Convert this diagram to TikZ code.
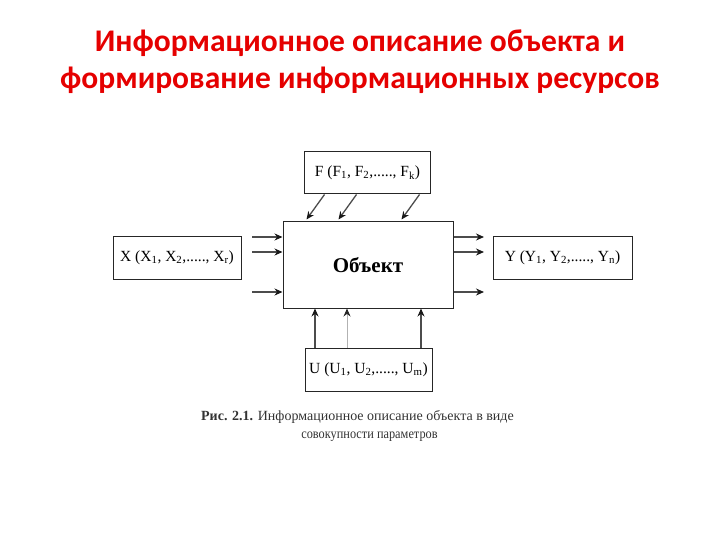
\documentclass[tikz,border=0pt]{standalone}
\usepackage{fontspec}
\setmainfont{Liberation Serif}
\newfontfamily\titlefont{Carlito}
\newfontfamily\capfont[FakeStretch=0.88]{Liberation Serif}
\usetikzlibrary{arrows.meta}
\begin{document}
\begin{tikzpicture}[x=1pt,y=-1pt,
  box/.style={draw=black!85,line width=1pt,inner sep=0pt,font=\fontsize{15.5}{17}\selectfont},
  arr/.style={draw=black!70,line width=1.3pt,-{Stealth[length=8pt,width=7pt,color=black!90]}},
  larr/.style={draw=black!30,line width=1pt,-{Stealth[length=8pt,width=7pt,color=black!85]}},
  captext/.style={font=\fontsize{14}{18}\selectfont,text=black!80,inner sep=0pt}]
\useasboundingbox (0,0) rectangle (720,540);
\node[font=\titlefont\bfseries\fontsize{31.5}{37}\selectfont,text=red!90!black,align=center] (title) at (360,62)
  {Информационное описание объекта и\\формирование информационных ресурсов};
% boxes
\node[box,minimum width=126pt,minimum height=42pt] (F) at (367.5,173) {F (F\textsubscript{1}, F\textsubscript{2},....., F\textsubscript{k})};
\node[box,minimum width=128pt,minimum height=43pt] (X) at (177,257.5) {X (X\textsubscript{1}, X\textsubscript{2},....., X\textsubscript{r})};
\node[box,minimum width=170pt,minimum height=86pt,font=\bfseries\fontsize{21}{24}\selectfont] (O) at (368,265) {Объект};
\node[box,minimum width=139pt,minimum height=43pt] (Y) at (562.5,257.5) {Y (Y\textsubscript{1}, Y\textsubscript{2},....., Y\textsubscript{n})};
\node[box,minimum width=127pt,minimum height=43pt] (U) at (368.5,369.5) {U (U\textsubscript{1}, U\textsubscript{2},....., U\textsubscript{m})};
% F arrows
\draw[arr] ([xshift=-43pt]F.south) -- ++(-18,25);
\draw[arr] ([xshift=-11pt]F.south) -- ++(-18,25);
\draw[arr] ([xshift=52pt]F.south) -- ++(-18,25);
% X arrows
\coordinate (xa1) at (252,237);
\coordinate (xa2) at (252,252);
\coordinate (xa3) at (252,292);
\draw[arr] (xa1) -- (xa1 -| O.west);
\draw[arr] (xa2) -- (xa2 -| O.west);
\draw[arr] (xa3) -- (xa3 -| O.west);
% Y arrows
\coordinate (ya1) at (484,237);
\coordinate (ya2) at (484,252);
\coordinate (ya3) at (484,292);
\draw[arr] (ya1 -| O.east) -- (ya1);
\draw[arr] (ya2 -| O.east) -- (ya2);
\draw[arr] (ya3 -| O.east) -- (ya3);
% U arrows
\draw[arr] (U.north -| 315,0) -- (O.south -| 315,0);
\draw[larr] (U.north -| 347,0) -- (O.south -| 347,0);
\draw[arr] (U.north -| 421,0) -- (O.south -| 421,0);
% caption
\node[captext] (cap1) at (357.5,417)
  {\textbf{Рис. 2.1.} Информационное описание объекта в виде};
\node[captext,font=\capfont\fontsize{14}{18}\selectfont] (cap2) at (369.5,437) {совокупности параметров};
\end{tikzpicture}
\end{document}
